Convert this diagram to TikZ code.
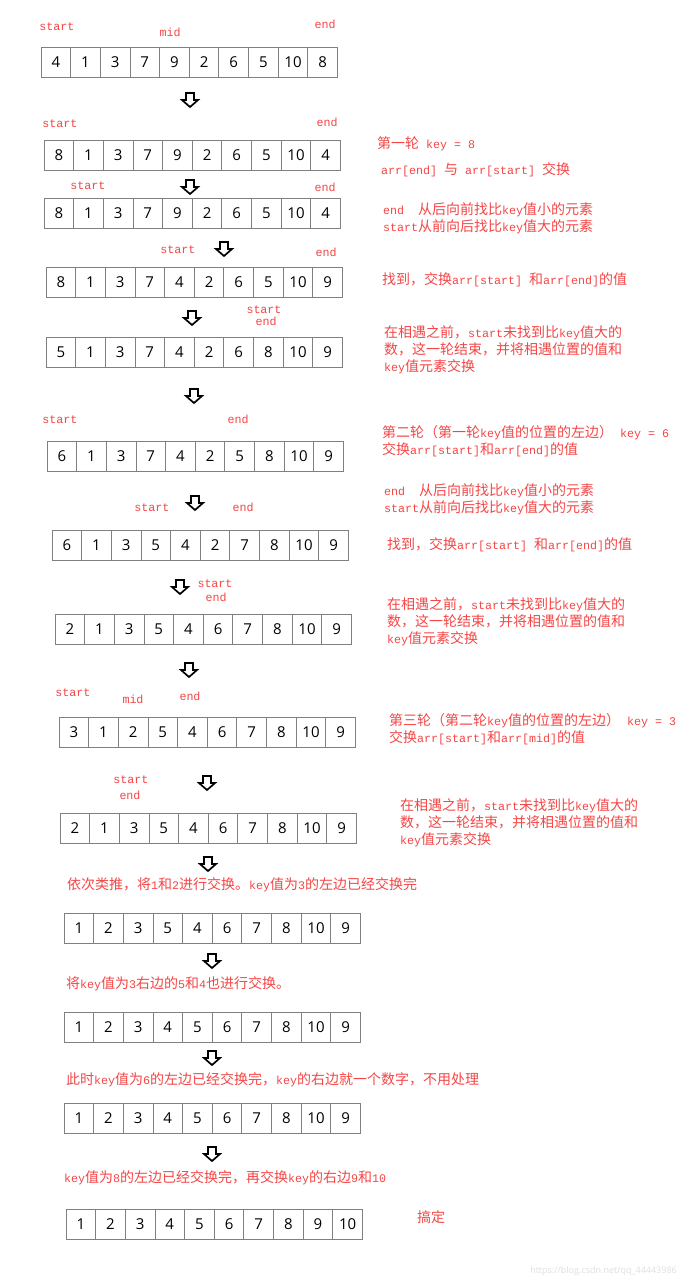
\documentclass[tikz,border=0pt]{standalone}
\usepackage{fontspec}
\usepackage{xcolor}
\setmainfont{Open Sans}
\setmonofont{Liberation Mono}[Scale=0.8333]
\newfontfamily\cjk{Noto Sans CJK SC}
\newcommand\zh[1]{{\cjk #1}}
\definecolor{notered}{RGB}{245,70,70}

% one row of ten cells: name, left x, top y, values
\newcommand\cellrow[4]{%
  \foreach \v [count=\i] in {#4}
    \node[cellbox] (#1-\i) at ({#2+29.65*(\i-0.5)},{#3+15.3}) {\v};}

\tikzset{
  cellbox/.style={draw=black!50, line width=0.9pt, minimum width=29.65pt, minimum height=30.6pt, inner sep=0pt, font=\fontsize{15}{15}\selectfont},
  ptr/.style={text=notered, font=\fontsize{14}{16}\selectfont\ttfamily, inner sep=0pt},
  note/.style={text=notered, font=\fontsize{14}{17}\selectfont\ttfamily, inner sep=0pt, align=left, anchor=north west},
  downarrow/.pic={\draw[line width=1.7pt] (-4,-7) -- (4,-7) -- (4,0) -- (8,0) -- (0,7) -- (-8,0) -- (-4,0) -- cycle;}
}

\begin{document}
\begin{tikzpicture}[x=1pt, y=-1pt]
        \fill[white] (0,0) rectangle (682,1280);
        \useasboundingbox (0,0) rectangle (682,1280);

        % the arrays
        \cellrow{r1}{41}{47}{4,1,3,7,9,2,6,5,10,8}
        \cellrow{r2}{44}{140}{8,1,3,7,9,2,6,5,10,4}
        \cellrow{r3}{44}{198}{8,1,3,7,9,2,6,5,10,4}
        \cellrow{r4}{46}{267}{8,1,3,7,4,2,6,5,10,9}
        \cellrow{r5}{46}{337}{5,1,3,7,4,2,6,8,10,9}
        \cellrow{r6}{47}{441}{6,1,3,7,4,2,5,8,10,9}
        \cellrow{r7}{52}{530}{6,1,3,5,4,2,7,8,10,9}
        \cellrow{r8}{55}{614}{2,1,3,5,4,6,7,8,10,9}
        \cellrow{r9}{59}{717}{3,1,2,5,4,6,7,8,10,9}
        \cellrow{r10}{60}{813}{2,1,3,5,4,6,7,8,10,9}
        \cellrow{r11}{64}{913}{1,2,3,5,4,6,7,8,10,9}
        \cellrow{r12}{64}{1012}{1,2,3,4,5,6,7,8,10,9}
        \cellrow{r13}{64}{1103}{1,2,3,4,5,6,7,8,10,9}
        \cellrow{r14}{66}{1209}{1,2,3,4,5,6,7,8,9,10}

        % start / mid / end pointers
        \node[ptr] (s1) at (57,27) {start};
        \node[ptr] (m1) at (170,32) {mid};
        \node[ptr] (e1) at (325,24) {end};
        \node[ptr] (s2) at (60,124) {start};
        \node[ptr] (e2) at (327,122) {end};
        \node[ptr] (s3) at (88,186) {start};
        \node[ptr] (e3) at (325,187) {end};
        \node[ptr] (s4) at (178,250) {start};
        \node[ptr] (e4) at (326,252) {end};
        \node[ptr] (s5) at (264,310) {start};
        \node[ptr] (e5) at (266,321) {end};
        \node[ptr] (s6) at (60,420) {start};
        \node[ptr] (e6) at (238,419) {end};
        \node[ptr] (s7) at (152,508) {start};
        \node[ptr] (e7) at (243,507) {end};
        \node[ptr] (s8) at (215,584) {start};
        \node[ptr] (e8) at (216,597) {end};
        \node[ptr] (s9) at (73,693) {start};
        \node[ptr] (m9) at (133,699) {mid};
        \node[ptr] (e9) at (190,696) {end};
        \node[ptr] (s10) at (131,780) {start};
        \node[ptr] (e10) at (130,795) {end};

        % hollow arrows between the steps
        \foreach \ax/\ay in {190/100, 190/187, 224/249, 192/318, 194/396, 195/503, 180/587,
                             189/670, 207/783, 208/864, 212/961, 212/1058, 212/1154}
            \pic at (\ax,\ay) {downarrow};

        % notes
        \node[note] (n1) at (377,136) {\zh{第一轮} key = 8};
        \node[note] (n2) at (381,162) {arr[end] \zh{与} arr[start] \zh{交换}};
        \node[note] (n3) at (383,202) {end\ \ \zh{从后向前找比}key\zh{值小的元素}\\start\zh{从前向后找比}key\zh{值大的元素}};
        \node[note] (n4) at (382,272) {\zh{找到，交换}arr[start] \zh{和}arr[end]\zh{的值}};
        \node[note] (n5) at (384,325) {\zh{在相遇之前，}start\zh{未找到比}key\zh{值大的}\\\zh{数，这一轮结束，并将相遇位置的值和}\\key\zh{值元素交换}};
        \node[note] (n6) at (382,425) {\zh{第二轮（第一轮}key\zh{值的位置的左边）} key = 6\\\zh{交换}arr[start]\zh{和}arr[end]\zh{的值}};
        \node[note] (n7) at (384,483) {end\ \ \zh{从后向前找比}key\zh{值小的元素}\\start\zh{从前向后找比}key\zh{值大的元素}};
        \node[note] (n8) at (387,537) {\zh{找到，交换}arr[start] \zh{和}arr[end]\zh{的值}};
        \node[note] (n9) at (387,597) {\zh{在相遇之前，}start\zh{未找到比}key\zh{值大的}\\\zh{数，这一轮结束，并将相遇位置的值和}\\key\zh{值元素交换}};
        \node[note] (n10) at (389,713) {\zh{第三轮（第二轮}key\zh{值的位置的左边）} key = 3\\\zh{交换}arr[start]\zh{和}arr[mid]\zh{的值}};
        \node[note] (n11) at (400,798) {\zh{在相遇之前，}start\zh{未找到比}key\zh{值大的}\\\zh{数，这一轮结束，并将相遇位置的值和}\\key\zh{值元素交换}};
        \node[note] (n12) at (67,877) {\zh{依次类推，将}1\zh{和}2\zh{进行交换。}key\zh{值为}3\zh{的左边已经交换完}};
        \node[note] (n13) at (66,976) {\zh{将}key\zh{值为}3\zh{右边的}5\zh{和}4\zh{也进行交换。}};
        \node[note] (n14) at (66,1072) {\zh{此时}key\zh{值为}6\zh{的左边已经交换完，}key\zh{的右边就一个数字，不用处理}};
        \node[note] (n15) at (64,1170) {key\zh{值为}8\zh{的左边已经交换完，再交换}key\zh{的右边}9\zh{和}10};
        \node[ptr] (done) at (431,1217) {\zh{搞定}};

        \node[anchor=east, inner sep=0pt, text=black!12, font=\fontsize{9}{10}\selectfont] (wm) at (677,1271) {https://blog.csdn.net/qq\_44443986};
\end{tikzpicture}
\end{document}
